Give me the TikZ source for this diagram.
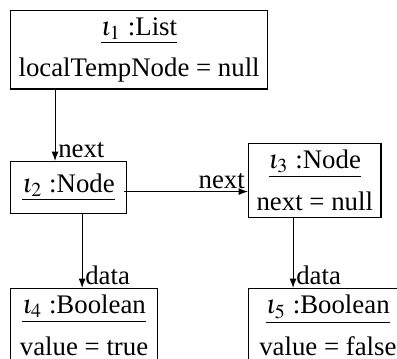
\documentclass[tikz,border=0pt]{standalone}
\usepackage{mathptmx}
\usepackage{fontspec}
\setmainfont{Liberation Serif}
\usetikzlibrary{arrows.meta}
\tikzset{
  obj/.style={draw, anchor=north west, align=center, inner xsep=3pt, inner ysep=2.5pt},
  link/.style={-{Latex[length=3.5pt,width=2.6pt]}},
  role/.style={inner sep=1pt}
}
\begin{document}
\begin{tikzpicture}[x=0.373pt, y=-0.373pt]
    \useasboundingbox (0,0) rectangle (397,358);
    % objects
    \node[obj] (list1) at (10,10) {\underline{$\iota_1$ :List}\\[3.5pt] localTempNode = null};
    \node[obj, minimum height=19.4pt, minimum width=43.3pt] (node2) at (10,161) {\underline{$\iota_2$ :Node}};
    \node[obj] (node3) at (248,143) {\underline{$\iota_3$ :Node}\\[3.5pt] next = null};
    \node[obj, inner xsep=3.5pt] (bool4) at (10,288) {\underline{$\iota_4$ :Boolean}\\[3.5pt] value = true};
    \node[obj, inner xsep=4pt] (bool5) at (248,288) {\underline{$\iota_5$ :Boolean}\\[3.5pt] value = false};
    % links
    \draw[link] ([xshift=16.8pt]list1.south west) -- ([xshift=16.8pt]node2.north west)
        node[role, pos=1, anchor=south west] (next1) {next};
    \draw[link] ([xshift=-1pt,yshift=-1.5pt]node2.east) -- ([yshift=-1.5pt]node2.east -| node3.west)
        node[role, pos=1, anchor=south east] (next2) {next};
    \draw[link] ([xshift=26.9pt]node2.south west) -- ([xshift=26.9pt]bool4.north west)
        node[role, pos=1, anchor=south west] (data4) {data};
    \draw[link] ([xshift=16.8pt]node3.south west) -- ([xshift=16.8pt]bool5.north west)
        node[role, pos=1, anchor=south west] (data5) {data};
\end{tikzpicture}
\end{document}
